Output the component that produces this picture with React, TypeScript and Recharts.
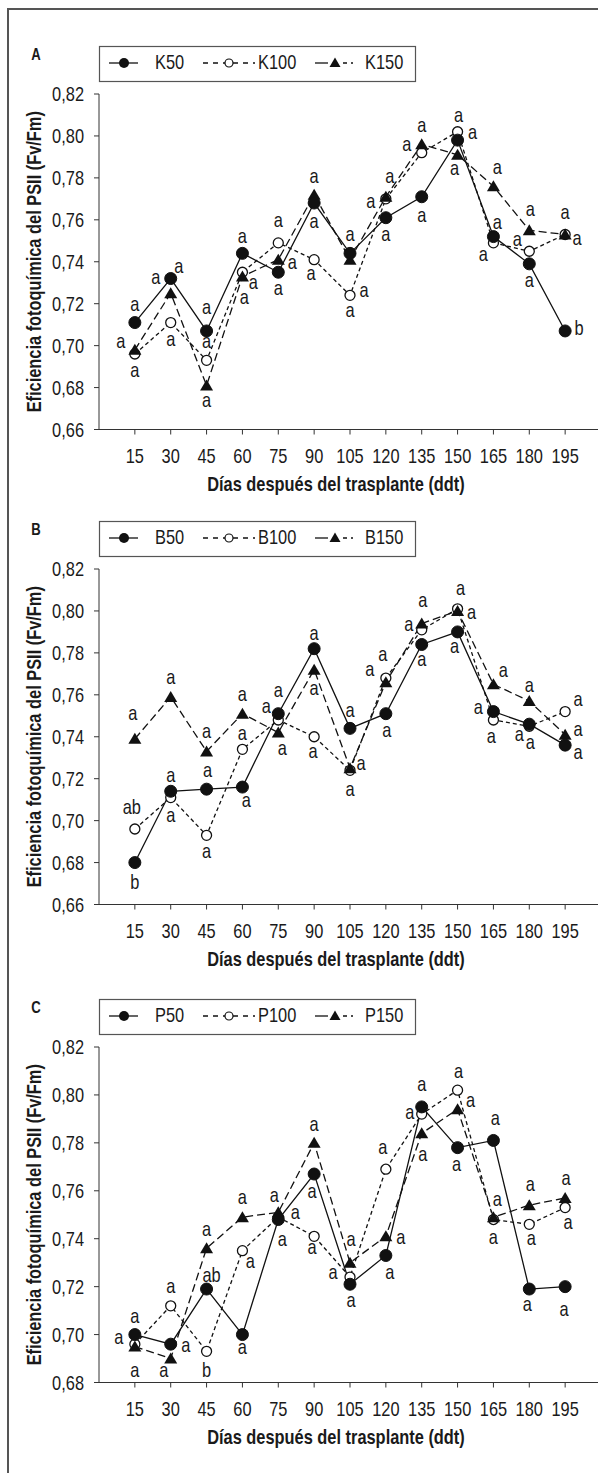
import { LineChart, Line, XAxis, YAxis, Legend, LabelList } from 'recharts'

const FONT = '"Liberation Sans", Arial, sans-serif'
const INK = '#1a1a1a'

const days = [15, 30, 45, 60, 75, 90, 105, 120, 135, 150, 165, 180, 195]
const ticksAB = [0.66, 0.68, 0.7, 0.72, 0.74, 0.76, 0.78, 0.8, 0.82]
const ticksC = [0.68, 0.7, 0.72, 0.74, 0.76, 0.78, 0.8, 0.82]

// Panel A: potasio
const k50 = [0.711, 0.732, 0.707, 0.744, 0.735, 0.768, 0.744, 0.761, 0.771, 0.798, 0.752, 0.739, 0.707]
const k100 = [0.696, 0.711, 0.693, 0.735, 0.749, 0.741, 0.724, 0.770, 0.792, 0.802, 0.749, 0.745, 0.753]
const k150 = [0.698, 0.725, 0.681, 0.733, 0.741, 0.772, 0.741, 0.771, 0.796, 0.791, 0.776, 0.755, 0.753]
const k50Sig = ['a', 'a', 'a', 'a', 'a', 'a', 'a', 'a', 'a', 'a', 'a', 'a', 'b']
const k100Sig = ['a', 'a', 'a', 'a', 'a', 'a', 'a', 'a', 'a', 'a', 'a', 'a', 'a']
const k150Sig = ['a', 'a', 'a', 'a', 'a', 'a', 'a', 'a', 'a', 'a', 'a', 'a', 'a']

// Panel B: boro
const b50 = [0.680, 0.714, 0.715, 0.716, 0.751, 0.782, 0.744, 0.751, 0.784, 0.790, 0.752, 0.746, 0.736]
const b100 = [0.696, 0.711, 0.693, 0.734, 0.748, 0.740, 0.724, 0.768, 0.791, 0.801, 0.748, 0.745, 0.752]
const b150 = [0.739, 0.759, 0.733, 0.751, 0.742, 0.772, 0.725, 0.766, 0.794, 0.800, 0.765, 0.757, 0.741]
const b50Sig = ['b', 'a', 'a', 'a', 'a', 'a', 'a', 'a', 'a', 'a', 'a', 'a', 'a']
const b100Sig = ['ab', 'a', 'a', 'a', 'a', 'a', 'a', 'a', 'a', 'a', 'a', 'a', 'a']
const b150Sig = ['a', 'a', 'a', 'a', 'a', 'a', 'a', 'a', 'a', 'a', 'a', 'a', 'a']

// Panel C: fosforo
const p50 = [0.700, 0.696, 0.719, 0.700, 0.748, 0.767, 0.721, 0.733, 0.795, 0.778, 0.781, 0.719, 0.720]
const p100 = [0.696, 0.712, 0.693, 0.735, 0.749, 0.741, 0.724, 0.769, 0.792, 0.802, 0.748, 0.746, 0.753]
const p150 = [0.695, 0.690, 0.736, 0.749, 0.751, 0.780, 0.730, 0.741, 0.784, 0.794, 0.749, 0.754, 0.757]
const p50Sig = ['a', 'a', 'ab', 'a', 'a', 'a', 'a', 'a', 'a', 'a', 'a', 'a', 'a']
const p100Sig = ['a', 'a', 'b', 'a', 'a', 'a', 'a', 'a', 'a', 'a', 'a', 'a', 'a']
const p150Sig = ['a', 'a', 'a', 'a', 'a', 'a', 'a', 'a', 'a', 'a', 'a', 'a', 'a']

// where each letter sits relative to its marker, [dx, dy] px (layout only)
const k50Pos = [[0, -17], [-15, 0], [0, -22], [0, -15], [0, 18], [0, 20], [0, -17], [0, 18], [0, 20], [15, -6], [4, -13], [0, 18], [14, -1]]
const k100Pos = [[0, 18], [0, 18], [0, -17], [11, 12], [0, -21], [-3, 15], [0, 17], [-15, 4], [-15, -7], [1, -15], [-10, 13], [-12, -10], [12, 6]]
const k150Pos = [[-14, -7], [8, -25], [0, 17], [2, 23], [14, 4], [0, -17], [14, 32], [4, -19], [0, -17], [-3, 15], [4, -17], [1, -19], [0, -20]]
const b50Pos = [[0, 21], [0, -14], [1, -17], [4, 15], [0, -22], [0, -14], [0, -16], [1, 18], [0, 17], [-3, 16], [-15, -3], [-10, 12], [13, 9]]
const b100Pos = [[-3, -20], [0, 19], [0, 18], [0, -14], [-12, -12], [-1, 16], [0, 21], [-3, -22], [-13, -4], [3, -19], [-2, 18], [1, 18], [13, -11]]
const b150Pos = [[-2, -24], [0, -18], [0, -18], [0, -18], [4, 17], [0, 20], [11, -3], [-16, -11], [1, -22], [14, 3], [10, -12], [0, -14], [13, -4]]
const p50Pos = [[0, -17], [15, 3], [5, -12], [0, 14], [4, 21], [-2, 19], [1, 18], [4, 19], [0, -21], [-1, 18], [2, -20], [-2, 17], [-1, 24]]
const p100Pos = [[-16, -5], [0, -18], [0, 21], [8, 12], [17, -3], [-2, 13], [-17, -3], [-3, -20], [-12, 0], [1, -17], [0, 19], [2, 16], [3, 16]]
const p150Pos = [[0, 25], [-7, 13], [0, -17], [0, -18], [-4, -15], [0, -17], [1, -22], [15, 3], [1, 23], [13, -7], [4, -16], [1, -19], [1, -18]]

const fmt = (v: number) => v.toFixed(2).replace('.', ',')

// the original uses a condensed sans; Liberation Sans squeezed horizontally stands in for it
function NText({ x, y, anchor = 'start', size = 20, bold = false, rotate = 0, children }: any) {
  const t = `translate(${x} ${y})${rotate ? ` rotate(${rotate})` : ''} scale(0.82 1)`
  return (
    <text
      transform={t}
      textAnchor={anchor}
      fontSize={size}
      fontWeight={bold ? 'bold' : 'normal'}
      fontFamily={FONT}
      fill={INK}
    >
      {children}
    </text>
  )
}

function FilledDot(p: any) {
  if (p.cx == null) return null
  return <circle key={`f${p.index}`} cx={p.cx} cy={p.cy} r={6} fill="#111" stroke="#111" />
}
function OpenDot(p: any) {
  if (p.cx == null) return null
  return <circle key={`o${p.index}`} cx={p.cx} cy={p.cy} r={5} fill="#fff" stroke="#111" strokeWidth={1.3} />
}
function Tri(p: any) {
  if (p.cx == null) return null
  const { cx, cy } = p
  return <path key={`t${p.index}`} d={`M${cx},${cy - 6} L${cx + 6.5},${cy + 5} L${cx - 6.5},${cy + 5} Z`} fill="#111" />
}

const sigLabel = (pos: number[][]) => (props: any) => {
  const vb = props.viewBox || {}
  const x = props.x ?? vb.x + (vb.width || 0) / 2
  const y = props.y ?? vb.y + (vb.height || 0) / 2
  const [dx, dy] = pos[props.index] || [0, -17]
  return (
    <NText x={x + dx} y={y + dy + 5} anchor="middle">
      {props.value}
    </NText>
  )
}

function LegendBox({ letter, names }: { letter: string; names: string[] }) {
  return (
    <svg width={430} height={90} style={{ display: 'block' }}>
      <NText x={36} y={59.5} anchor="middle" size={16} bold>
        {letter}
      </NText>
      <rect x={99.5} y={46.5} width={316} height={35} fill="#fff" stroke="#555" strokeWidth={1.2} />
      <line x1={109} x2={138} y1={63} y2={63} stroke="#111" strokeWidth={1.3} />
      <circle cx={124} cy={63} r={5} fill="#111" />
      <NText x={155} y={69}>{names[0]}</NText>
      <line x1={203} x2={255} y1={63} y2={63} stroke="#111" strokeWidth={1.3} strokeDasharray="5 5" />
      <circle cx={229} cy={63} r={4} fill="#fff" stroke="#111" strokeWidth={1.2} />
      <NText x={258} y={69}>{names[1]}</NText>
      <line x1={315} x2={328} y1={63} y2={63} stroke="#111" strokeWidth={1.3} />
      <line x1={343} x2={353} y1={63} y2={63} stroke="#111" strokeWidth={1.3} strokeDasharray="4 4" />
      <path d="M335,57.5 L340.5,67 L329.5,67 Z" fill="#111" />
      <NText x={365} y={69}>{names[2]}</NText>
    </svg>
  )
}

const panels = [
  {
    letter: 'A', top: 0, names: ['K50', 'K100', 'K150'], domain: [0.66, 0.82], ticks: ticksAB,
    v: [k50, k100, k150], sig: [k50Sig, k100Sig, k150Sig], pos: [k50Pos, k100Pos, k150Pos],
  },
  {
    letter: 'B', top: 474.5, names: ['B50', 'B100', 'B150'], domain: [0.66, 0.82], ticks: ticksAB,
    v: [b50, b100, b150], sig: [b50Sig, b100Sig, b150Sig], pos: [b50Pos, b100Pos, b150Pos],
  },
  {
    letter: 'C', top: 953, names: ['P50', 'P100', 'P150'], domain: [0.68, 0.82], ticks: ticksC,
    v: [p50, p100, p150], sig: [p50Sig, p100Sig, p150Sig], pos: [p50Pos, p100Pos, p150Pos],
  },
]

const CW = 620
const CH = 500
const PLOT_TOP = 94
const PLOT_BOTTOM = 429.5
const XH = 60

function Panel({ panel }: { panel: (typeof panels)[number] }) {
  const rows = days.map((d, i) => ({
    day: d,
    s50: panel.v[0][i],
    s100: panel.v[1][i],
    s150: panel.v[2][i],
    g50: panel.sig[0][i],
    g100: panel.sig[1][i],
    g150: panel.sig[2][i],
  }))

  return (
    <div style={{ position: 'absolute', left: 0, top: panel.top, width: CW, height: CH }}>
      <LineChart
        width={CW}
        height={CH}
        data={rows}
        margin={{ top: PLOT_TOP, right: 19, bottom: CH - PLOT_BOTTOM - XH, left: 0 }}
      >
        <XAxis
          dataKey="day"
          type="number"
          domain={[0, 210]}
          ticks={days}
          interval={0}
          height={XH}
          tickSize={5}
          tickMargin={14}
          stroke="#333"
          tick={(p: any) => (
            <NText x={p.x} y={p.y + 14.2} anchor="middle">
              {p.payload.value}
            </NText>
          )}
          label={(p: any) => (
            <NText x={336} y={p.viewBox.y + 61.5} anchor="middle" bold>
              Días después del trasplante (ddt)
            </NText>
          )}
        />
        <YAxis
          type="number"
          domain={panel.domain}
          ticks={panel.ticks}
          interval={0}
          width={99}
          tickSize={5}
          tickMargin={10}
          stroke="#333"
          tickFormatter={fmt}
          tick={(p: any) => (
            <NText x={p.x} y={p.y + 7} anchor="end">
              {fmt(p.payload.value)}
            </NText>
          )}
          label={(p: any) => (
            <NText x={41} y={p.viewBox.y + p.viewBox.height / 2} anchor="middle" bold rotate={-90}>
              Eficiencia fotoquímica del PSII (Fv/Fm)
            </NText>
          )}
        />
        <Legend
          layout="vertical"
          align="center"
          verticalAlign="middle"
          wrapperStyle={{ left: 0, top: 0, width: 430, height: 90 }}
          content={() => <LegendBox letter={panel.letter} names={panel.names} />}
        />
        <Line
          dataKey="s100"
          stroke="#111"
          strokeWidth={1.3}
          strokeDasharray="4 3"
          dot={OpenDot}
          activeDot={false}
          isAnimationActive={false}
        >
          <LabelList dataKey="g100" content={sigLabel(panel.pos[1])} />
        </Line>
        <Line
          dataKey="s150"
          stroke="#111"
          strokeWidth={1.3}
          strokeDasharray="8 4"
          dot={Tri}
          activeDot={false}
          isAnimationActive={false}
        >
          <LabelList dataKey="g150" content={sigLabel(panel.pos[2])} />
        </Line>
        <Line
          dataKey="s50"
          stroke="#111"
          strokeWidth={1.3}
          dot={FilledDot}
          activeDot={false}
          isAnimationActive={false}
        >
          <LabelList dataKey="g50" content={sigLabel(panel.pos[0])} />
        </Line>
      </LineChart>
    </div>
  )
}

export default function App() {
  return (
    <div
      style={{
        position: 'absolute',
        left: 0,
        top: 0,
        width: 598,
        height: 1473,
        overflow: 'hidden',
        background: '#fff',
      }}
    >
      <div
        style={{
          position: 'absolute',
          left: 7,
          top: 8,
          width: 640,
          height: 1500,
          borderTop: '2px solid #555',
          borderLeft: '2px solid #555',
        }}
      />
      {panels.map((p) => (
        <Panel key={p.letter} panel={p} />
      ))}
    </div>
  )
}
